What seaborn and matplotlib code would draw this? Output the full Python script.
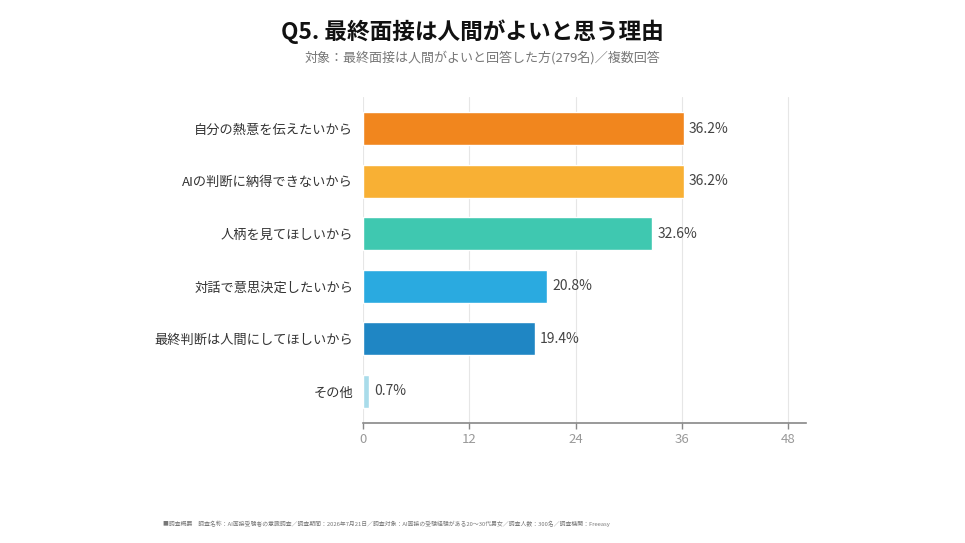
import seaborn as sns
import matplotlib.pyplot as plt
import pandas as pd

# data
reasons = ['自分の熱意を伝えたいから', 'AIの判断に納得できないから', '人柄を見てほしいから',
           '対話で意思決定したいから', '最終判断は人間にしてほしいから', 'その他']
percent = [36.2, 36.2, 32.6, 20.8, 19.4, 0.7]
bar_colors = ['#F1861E', '#F8B034', '#3FC8B0', '#2AAAE0', '#1F86C4', '#A9DCEA']
x_ticks = [0, 12, 24, 36, 48]

title = 'Q5. 最終面接は人間がよいと思う理由'
subtitle = '対象：最終面接は人間がよいと回答した方(279名)／複数回答'
footer = ('■調査概要　調査名称：AI面接受験者の意識調査／調査期間：2026年7月21日／'
          '調査対象：AI面接の受験経験がある20～30代男女／調査人数：300名／調査機関：Freeasy')

df = pd.DataFrame({'reason': reasons, 'percent': percent})

sns.set_style('white')
plt.rcParams['font.family'] = ['Noto Sans CJK JP', 'DejaVu Sans']

fig = plt.figure(figsize=(9.65, 5.43), dpi=100)
ax = fig.add_axes([363 / 965, 1 - 423 / 543, (806 - 363) / 965, (423 - 97) / 543])

sns.barplot(data=df, x='percent', y='reason', hue='reason', palette=bar_colors,
            legend=False, width=0.63, saturation=1, ax=ax)

for i, v in enumerate(percent):
    ax.text(v + 0.6, i, f'{v}%', va='center', ha='left', fontsize=10, color='#444444')

ax.set_xlim(0, 50)
ax.set_ylim(5.6, -0.6)
ax.set_xticks(x_ticks)
ax.set_xlabel('')
ax.set_ylabel('')
ax.xaxis.grid(True, color='#e6e6e6', linewidth=0.8)
ax.set_axisbelow(True)
for s in ['top', 'right', 'left']:
    ax.spines[s].set_visible(False)
ax.spines['bottom'].set_color('#888888')
ax.spines['bottom'].set_linewidth(1.2)
ax.tick_params(axis='x', colors='#888888', labelcolor='#999999', labelsize=9.5,
               direction='out', length=4, width=1, bottom=True)
ax.tick_params(axis='y', length=0, labelsize=9.5, labelcolor='#333333', pad=7)

fig.text(472 / 965, 1 - 32 / 543, title, ha='center', va='center',
         fontsize=16.3, fontweight='bold', color='#111111')
fig.text(482 / 965, 1 - 58 / 543, subtitle, ha='center', va='center',
         fontsize=9.4, color='#777777')
fig.text(163 / 965, 1 - 524 / 543, footer, ha='left', va='center',
         fontsize=4.2, color='#777777')

plt.savefig('out.png', dpi=100)
